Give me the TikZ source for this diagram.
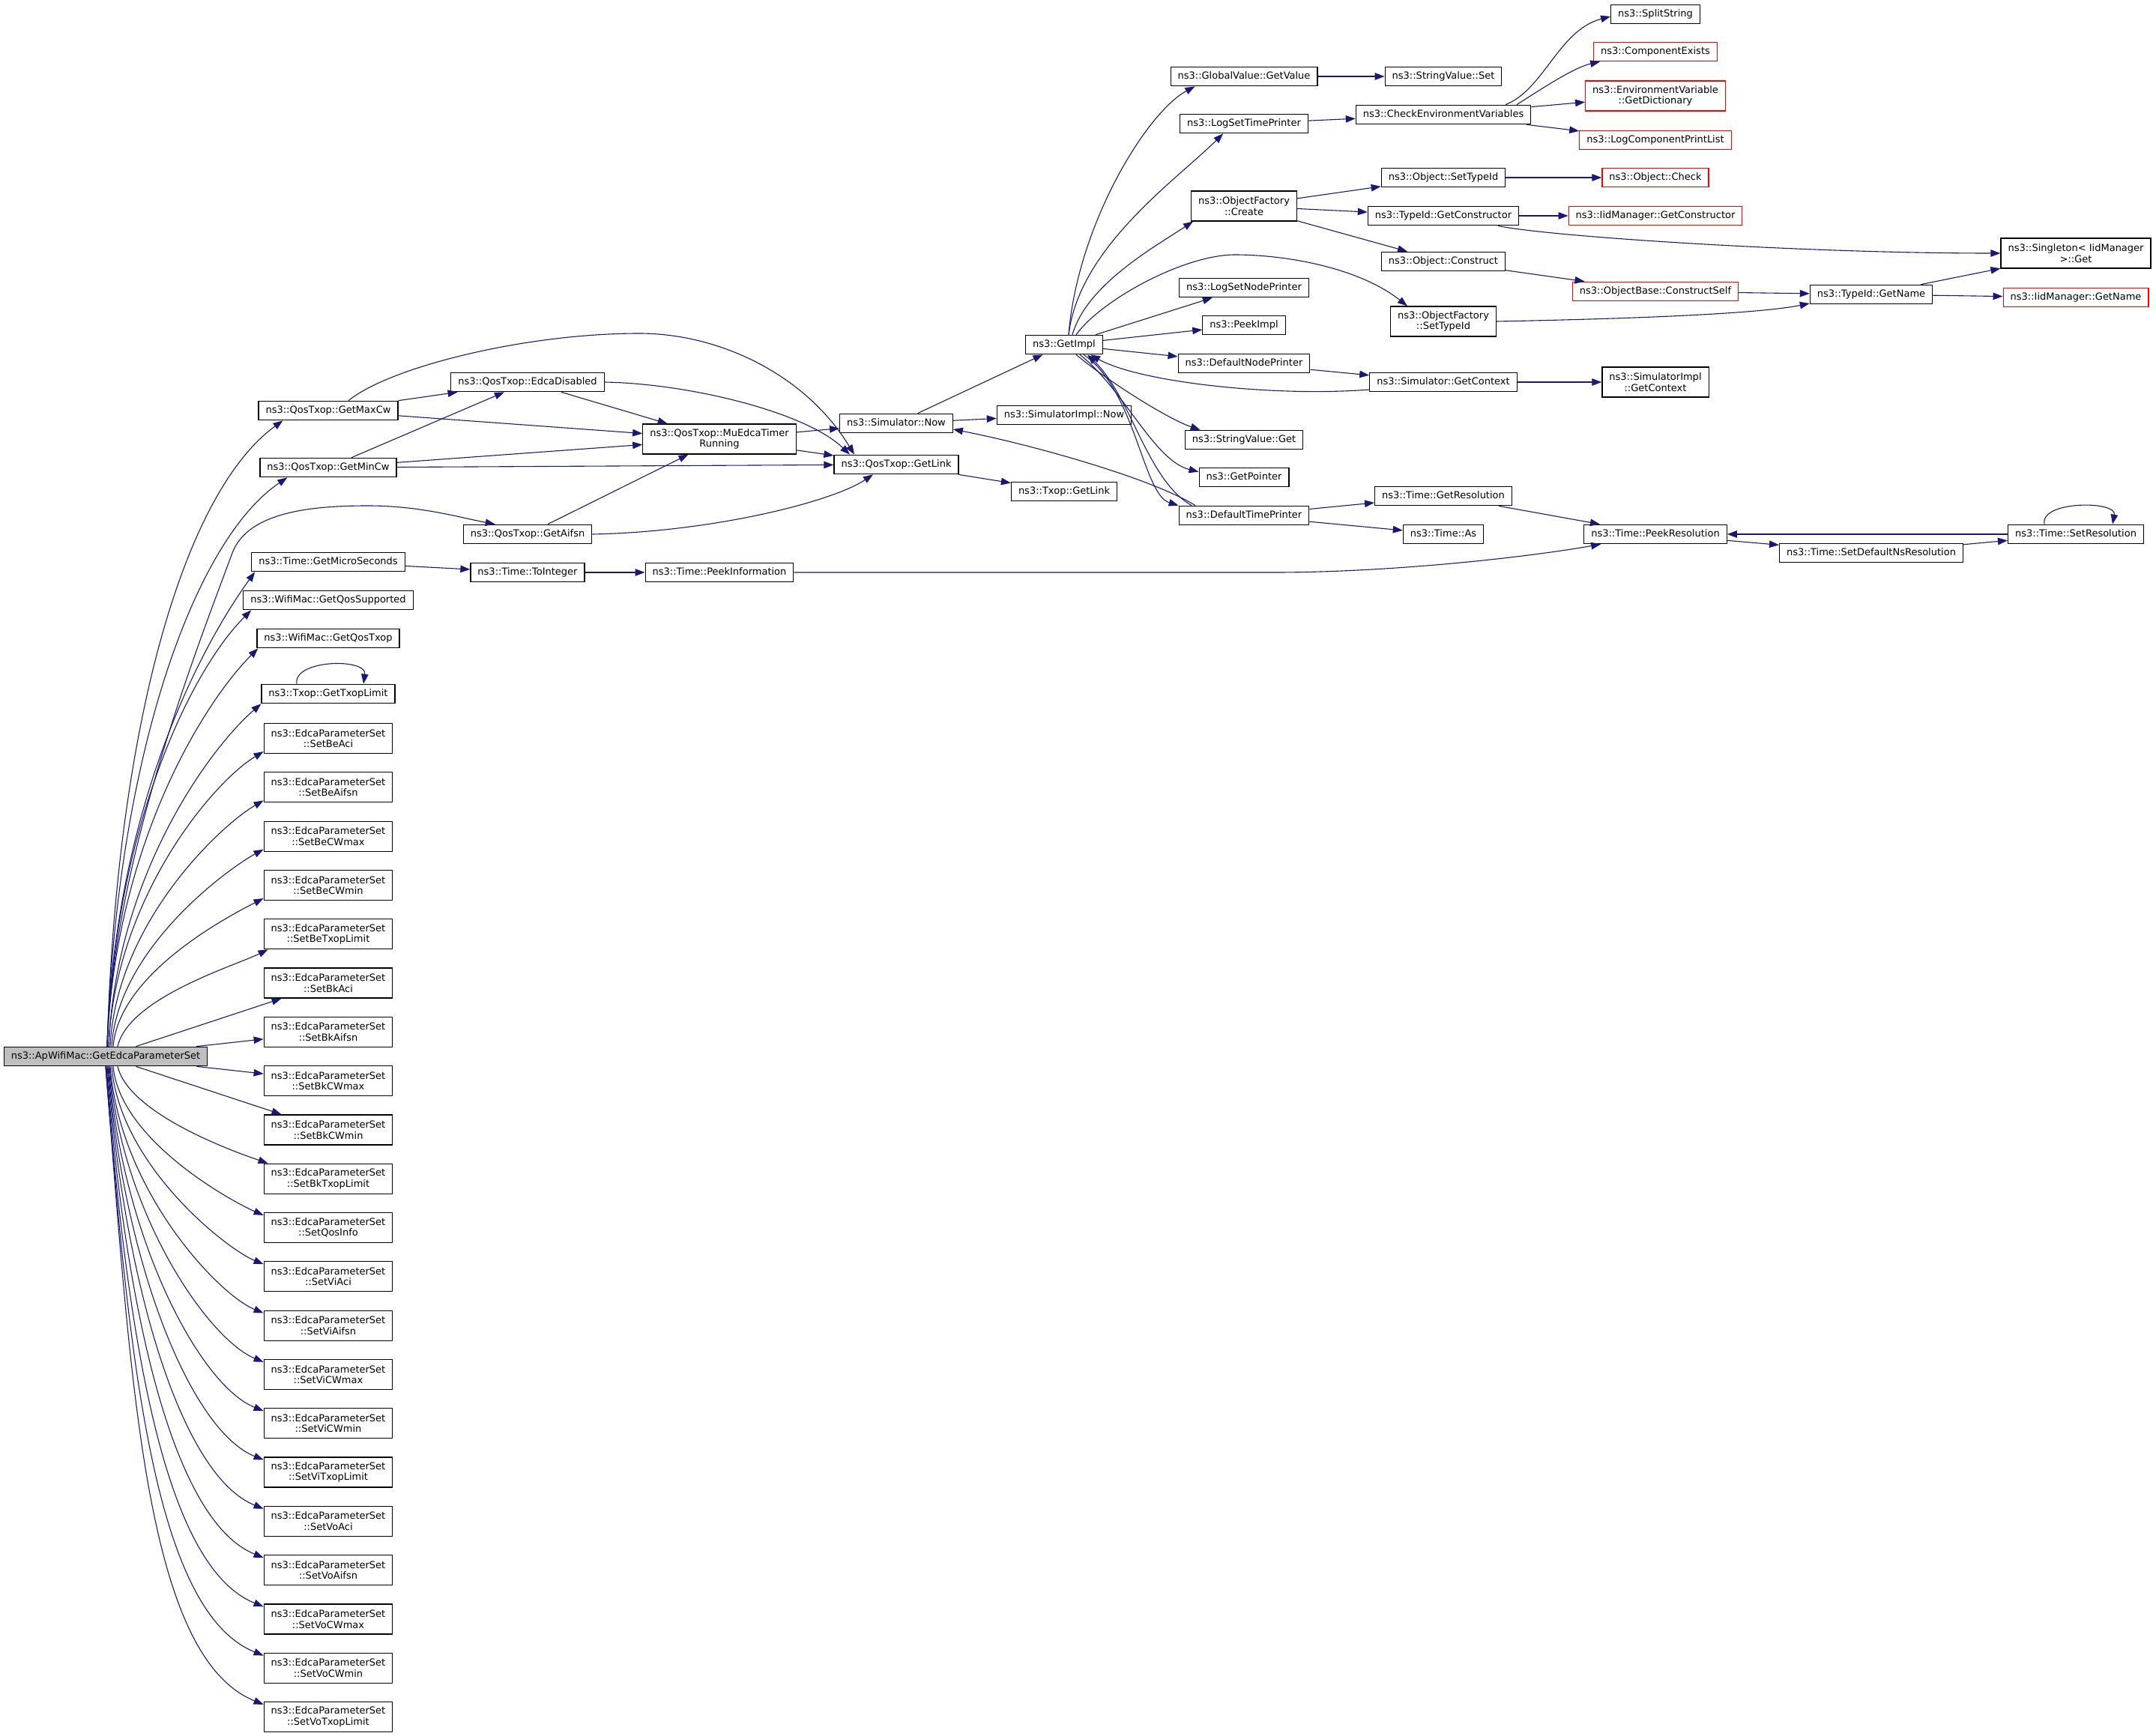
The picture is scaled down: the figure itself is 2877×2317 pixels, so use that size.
\documentclass[tikz,border=0pt]{standalone}
\usepackage{fontspec}
\setmainfont{DejaVu Sans}
\usetikzlibrary{arrows.meta}

\definecolor{edgeblue}{HTML}{191970}
\definecolor{rootgray}{HTML}{BFBFBF}

\tikzset{
  box/.style={draw=black, line width=1.2pt, fill=white, inner xsep=9.5pt,
    font=\fontsize{13}{14.5}\selectfont, minimum height=25.5pt},
  func/.style={box, text height=9.8pt, text depth=3pt},
  functwo/.style={box, align=center, minimum height=40pt},
  funcred/.style={func, draw=red},
  functwored/.style={functwo, draw=red},
  call/.style={draw=edgeblue, line width=1.1pt, -{Triangle[length=13pt,width=9.5pt]}},
}

\begin{document}
\begin{tikzpicture}[x=1pt,y=1pt]

    \path[use as bounding box, fill=white] (0,0) rectangle (2877,-2317);

    % first column
    \node[func, fill=rootgray] (root) at (141,-1410) {ns3::ApWifiMac::GetEdcaParameterSet};
    \node[func] (maxcw) at (438,-548) {ns3::QosTxop::GetMaxCw};
    \node[func] (mincw) at (438,-624) {ns3::QosTxop::GetMinCw};
    \node[func] (micro) at (438,-750) {ns3::Time::GetMicroSeconds};
    \node[func] (qossup) at (438,-801) {ns3::WifiMac::GetQosSupported};
    \node[func] (qostxop) at (438,-852) {ns3::WifiMac::GetQosTxop};
    \node[func] (txoplimit) at (438,-926) {ns3::Txop::GetTxopLimit};
    \node[functwo] (beaci) at (438,-985.5) {ns3::EdcaParameterSet\\::SetBeAci};
    \node[functwo] (beaifsn) at (438,-1050.8) {ns3::EdcaParameterSet\\::SetBeAifsn};
    \node[functwo] (becwmax) at (438,-1116.1) {ns3::EdcaParameterSet\\::SetBeCWmax};
    \node[functwo] (becwmin) at (438,-1181.4) {ns3::EdcaParameterSet\\::SetBeCWmin};
    \node[functwo] (betxop) at (438,-1246.7) {ns3::EdcaParameterSet\\::SetBeTxopLimit};
    \node[functwo] (bkaci) at (438,-1312.0) {ns3::EdcaParameterSet\\::SetBkAci};
    \node[functwo] (bkaifsn) at (438,-1377.3) {ns3::EdcaParameterSet\\::SetBkAifsn};
    \node[functwo] (bkcwmax) at (438,-1442.6) {ns3::EdcaParameterSet\\::SetBkCWmax};
    \node[functwo] (bkcwmin) at (438,-1507.9) {ns3::EdcaParameterSet\\::SetBkCWmin};
    \node[functwo] (bktxop) at (438,-1573.2) {ns3::EdcaParameterSet\\::SetBkTxopLimit};
    \node[functwo] (qosinfo) at (438,-1638.5) {ns3::EdcaParameterSet\\::SetQosInfo};
    \node[functwo] (viaci) at (438,-1703.8) {ns3::EdcaParameterSet\\::SetViAci};
    \node[functwo] (viaifsn) at (438,-1769.1) {ns3::EdcaParameterSet\\::SetViAifsn};
    \node[functwo] (vicwmax) at (438,-1834.4) {ns3::EdcaParameterSet\\::SetViCWmax};
    \node[functwo] (vicwmin) at (438,-1899.7) {ns3::EdcaParameterSet\\::SetViCWmin};
    \node[functwo] (vitxop) at (438,-1965.0) {ns3::EdcaParameterSet\\::SetViTxopLimit};
    \node[functwo] (voaci) at (438,-2030.3) {ns3::EdcaParameterSet\\::SetVoAci};
    \node[functwo] (voaifsn) at (438,-2095.6) {ns3::EdcaParameterSet\\::SetVoAifsn};
    \node[functwo] (vocwmax) at (438,-2160.9) {ns3::EdcaParameterSet\\::SetVoCWmax};
    \node[functwo] (vocwmin) at (438,-2226.2) {ns3::EdcaParameterSet\\::SetVoCWmin};
    \node[functwo] (votxop) at (438,-2291.5) {ns3::EdcaParameterSet\\::SetVoTxopLimit};

    % middle columns
    \node[func] (edcadis) at (704,-510) {ns3::QosTxop::EdcaDisabled};
    \node[func] (aifsn) at (704,-713) {ns3::QosTxop::GetAifsn};
    \node[func] (toint) at (704,-764) {ns3::Time::ToInteger};
    \node[functwo] (muedca) at (960,-586) {ns3::QosTxop::MuEdcaTimer\\Running};
    \node[func] (peekinfo) at (960,-764) {ns3::Time::PeekInformation};
    \node[func] (simnow) at (1196,-565) {ns3::Simulator::Now};
    \node[func] (qoslink) at (1196,-620) {ns3::QosTxop::GetLink};
    \node[func] (getimpl) at (1420,-460) {ns3::GetImpl};
    \node[func] (simimplnow) at (1420,-554) {ns3::SimulatorImpl::Now};
    \node[func] (txoplink) at (1420,-656) {ns3::Txop::GetLink};

    \node[func] (globalget) at (1660,-102) {ns3::GlobalValue::GetValue};
    \node[func] (logtime) at (1660,-165) {ns3::LogSetTimePrinter};
    \node[functwo] (ofcreate) at (1660,-275) {ns3::ObjectFactory\\::Create};
    \node[func] (lognode) at (1660,-384) {ns3::LogSetNodePrinter};
    \node[func] (peekimpl) at (1660,-434) {ns3::PeekImpl};
    \node[func] (defnode) at (1660,-485) {ns3::DefaultNodePrinter};
    \node[func] (svget) at (1660,-587) {ns3::StringValue::Get};
    \node[func] (getptr) at (1660,-637) {ns3::GetPointer};
    \node[func] (deftime) at (1660,-688) {ns3::DefaultTimePrinter};

    \node[func] (svset) at (1926,-102) {ns3::StringValue::Set};
    \node[func] (checkenv) at (1926,-153) {ns3::CheckEnvironmentVariables};
    \node[func] (objsettid) at (1926,-237) {ns3::Object::SetTypeId};
    \node[func] (getctor) at (1926,-288) {ns3::TypeId::GetConstructor};
    \node[func] (objconstruct) at (1926,-349) {ns3::Object::Construct};
    \node[functwo] (ofsettid) at (1926,-429) {ns3::ObjectFactory\\::SetTypeId};
    \node[func] (simctx) at (1926,-510) {ns3::Simulator::GetContext};
    \node[func] (getres) at (1926,-662) {ns3::Time::GetResolution};
    \node[func] (timeas) at (1926,-713) {ns3::Time::As};

    % right columns
    \node[func] (split) at (2209,-19) {ns3::SplitString};
    \node[funcred] (compexists) at (2209,-69) {ns3::ComponentExists};
    \node[functwored] (envdict) at (2209,-128) {ns3::EnvironmentVariable\\::GetDictionary};
    \node[funcred] (logprint) at (2209,-187) {ns3::LogComponentPrintList};
    \node[funcred] (objcheck) at (2209,-237) {ns3::Object::Check};
    \node[funcred] (iidctor) at (2209,-288) {ns3::IidManager::GetConstructor};
    \node[funcred] (constructself) at (2209,-389) {ns3::ObjectBase::ConstructSelf};
    \node[functwo] (simimplctx) at (2209,-510) {ns3::SimulatorImpl\\::GetContext};
    \node[func] (peekres) at (2209,-713) {ns3::Time::PeekResolution};
    \node[func] (getname) at (2497,-393) {ns3::TypeId::GetName};
    \node[func] (setdefns) at (2497,-738) {ns3::Time::SetDefaultNsResolution};
    \node[functwo] (singleton) at (2770,-338) {ns3::Singleton< IidManager\\ >::Get};
    \node[funcred] (iidname) at (2770,-397) {ns3::IidManager::GetName};
    \node[func] (setres) at (2770,-713) {ns3::Time::SetResolution};

    % calls out of the root, upwards
    \draw[call] ([xshift=2pt]root.north) .. controls +(12,418) and +(-135,-98) .. ([xshift=33pt]maxcw.south west);
    \draw[call] ([xshift=2pt]root.north) .. controls +(12,380) and +(-126,-85) .. ([xshift=37pt]mincw.south west);
    \draw[call] ([xshift=2pt]root.north) .. controls (150,-1150) and (265,-860) .. (310,-738)
      .. controls (331,-682) and (420,-675) .. (491,-675)
      .. controls (560,-675) and (610,-690) .. ([xshift=43pt]aifsn.north west);
    \draw[call] ([xshift=2pt]root.north) .. controls +(10,316) and +(-74,-102) .. ([xshift=5pt]micro.south west);
    \draw[call] ([xshift=2pt]root.north) .. controls +(10,291) and +(-82,-82) .. ([xshift=11pt]qossup.south west);
    \draw[call] ([xshift=2pt]root.north) .. controls +(10,265) and +(-75,-75) .. ([xshift=2pt]qostxop.south west);
    \draw[call] ([xshift=4pt]root.north) .. controls +(10,228) and +(-69,-60) .. (txoplimit.south west);
    \draw[call] ([xshift=4pt]root.north) .. controls +(8,197) and +(-68,-41) .. ([yshift=3pt]beaci.south west);
    \draw[call] ([xshift=6pt]root.north) .. controls +(8,165) and +(-57,-33) .. ([yshift=3pt]beaifsn.south west);
    \draw[call] ([xshift=8pt]root.north) .. controls +(8,130) and +(-48,-26) .. ([yshift=3pt]becwmax.south west);
    \draw[call] ([xshift=10pt]root.north) .. controls +(8,98) and +(-45,-23) .. ([yshift=3pt]becwmin.south west);
    \draw[call] ([xshift=16pt]root.north) .. controls +(15,65) and +(-45,-22) .. ([xshift=6pt]betxop.south west);
    \draw[call] (root) -- (bkaci);
    \draw[call] (root) -- (bkaifsn);

    % calls out of the root, downwards
    \draw[call] (root) -- (bkcwmax);
    \draw[call] (root) -- (bkcwmin);
    \draw[call] ([xshift=16pt]root.south) .. controls +(15,-63) and +(-47,16) .. ([xshift=6pt]bktxop.north west);
    \draw[call] ([xshift=10pt]root.south) .. controls +(9,-97) and +(-46,20) .. ([yshift=-4pt]qosinfo.north west);
    \draw[call] ([xshift=8pt]root.south) .. controls +(11,-132) and +(-49,20) .. ([yshift=-4pt]viaci.north west);
    \draw[call] ([xshift=6pt]root.south) .. controls +(13,-165) and +(-61,25) .. ([yshift=-4pt]viaifsn.north west);
    \draw[call] ([xshift=5pt]root.south) .. controls +(16,-198) and +(-73,30) .. ([yshift=-4pt]vicwmax.north west);
    \draw[call] ([xshift=4pt]root.south) .. controls +(18,-230) and +(-85,34) .. ([yshift=-4pt]vicwmin.north west);
    \draw[call] ([xshift=3pt]root.south) .. controls +(21,-263) and +(-97,39) .. ([yshift=-4pt]vitxop.north west);
    \draw[call] ([xshift=2pt]root.south) .. controls +(24,-296) and +(-109,44) .. ([yshift=-4pt]voaci.north west);
    \draw[call] ([xshift=1pt]root.south) .. controls +(26,-328) and +(-121,49) .. ([yshift=-4pt]voaifsn.north west);
    \draw[call] (root.south) .. controls +(29,-361) and +(-134,54) .. ([yshift=-4pt]vocwmax.north west);
    \draw[call] (root.south) .. controls +(31,-394) and +(-146,59) .. ([yshift=-4pt]vocwmin.north west);
    \draw[call] (root.south) .. controls +(34,-426) and +(-158,64) .. ([yshift=-4pt]votxop.north west);

    % QosTxop part
    \draw[call] (maxcw) -- (edcadis);
    \draw[call] (maxcw) -- (muedca);
    \draw[call] ([xshift=27pt]maxcw.north) .. controls (520,-490) and (700,-445) .. (853,-445)
      .. controls (960,-445) and (1075,-500) .. ([xshift=-56pt]qoslink.north);
    \draw[call] (mincw) -- (edcadis);
    \draw[call] (mincw) -- (muedca);
    \draw[call] (mincw) -- (qoslink);
    \draw[call] (edcadis) -- (muedca);
    \draw[call] (edcadis.east) .. controls (920,-512) and (1075,-550) .. ([xshift=-62pt]qoslink.north);
    \draw[call] (aifsn) -- (muedca);
    \draw[call] (aifsn.east) .. controls (950,-710) and (1110,-670) .. ([xshift=-31pt]qoslink.south);
    \draw[call] (muedca) -- (simnow);
    \draw[call] (muedca) -- (qoslink);
    \draw[call] (simnow) -- (getimpl);
    \draw[call] (simnow) -- (simimplnow);
    \draw[call] (qoslink) -- (txoplink);
    \draw[call] ([xshift=-42pt]txoplimit.north) .. controls (391,-880) and (490,-878) .. ([xshift=47pt]txoplimit.north);

    % time
    \draw[call] (micro) -- (toint);
    \draw[call] (toint) -- (peekinfo);
    \draw[call] (peekinfo.east) -- (1700,-764) .. controls (1850,-764) and (2030,-745) .. ([xshift=23pt]peekres.south west);

    % GetImpl
    \draw[call] ([xshift=6pt]getimpl.north) .. controls (1438,-300) and (1530,-150) .. ([xshift=33pt]globalget.south west);
    \draw[call] ([xshift=6pt]getimpl.north) .. controls (1440,-330) and (1570,-240) .. ([xshift=58pt]logtime.south west);
    \draw[call] ([xshift=11pt]getimpl.north) .. controls (1450,-380) and (1540,-330) .. ([xshift=3pt]ofcreate.south west);
    \draw[call] ([xshift=16pt]getimpl.north) .. controls (1470,-400) and (1580,-340) .. (1648,-340)
      .. controls (1710,-340) and (1810,-355) .. ([xshift=-48pt]ofsettid.north);
    \draw[call] (getimpl) -- (lognode);
    \draw[call] (getimpl) -- (peekimpl);
    \draw[call] (getimpl) -- (defnode);
    \draw[call] ([xshift=16pt]getimpl.south) .. controls (1480,-510) and (1560,-560) .. ([xshift=21pt]svget.north west);
    \draw[call] ([xshift=21pt]getimpl.south) .. controls (1500,-520) and (1540,-615) .. ([yshift=-6pt]getptr.north west);
    \draw[call] ([xshift=26pt]getimpl.south) .. controls (1515,-520) and (1525,-660) .. (deftime.north west);
    \draw[call] ([xshift=-70pt]deftime.north) .. controls (1530,-640) and (1510,-530) .. ([xshift=31pt]getimpl.south);
    \draw[call] ([yshift=-10pt]simctx.west) .. controls (1700,-530) and (1520,-510) .. ([xshift=35pt]getimpl.south);
    \draw[call] ([xshift=-65pt]deftime.north) .. controls (1540,-640) and (1384,-595) .. ([yshift=-8pt]simnow.east);

    \draw[call] (globalget) -- (svset);
    \draw[call] (logtime) -- (checkenv);
    \draw[call] ([xshift=83pt]checkenv.north) .. controls (2060,-120) and (2080,-40) .. ([yshift=-3pt]split.west);
    \draw[call] ([xshift=98pt]checkenv.north) .. controls (2055,-120) and (2100,-90) .. ([xshift=9pt]compexists.south west);
    \draw[call] (checkenv) -- (envdict);
    \draw[call] (checkenv) -- (logprint);
    \draw[call] (ofcreate) -- (objsettid);
    \draw[call] (ofcreate) -- (getctor);
    \draw[call] (ofcreate) -- (objconstruct);
    \draw[call] (objsettid) -- (objcheck);
    \draw[call] (getctor) -- (iidctor);
    \draw[call] ([xshift=73pt]getctor.south) .. controls (2060,-315) and (2400,-338) .. (singleton.west);
    \draw[call] (objconstruct) -- (constructself);
    \draw[call] (constructself) -- (getname);
    \draw[call] (ofsettid.east) .. controls (2150,-426) and (2340,-420) .. ([yshift=-12pt]getname.west);
    \draw[call] (getname) -- (singleton);
    \draw[call] (getname) -- (iidname);
    \draw[call] (defnode) -- (simctx);
    \draw[call] (simctx) -- (simimplctx);

    \draw[call] (deftime) -- (getres);
    \draw[call] (deftime) -- (timeas);
    \draw[call] (getres) -- (peekres);
    \draw[call] (peekres) -- (setdefns);
    \draw[call] (setdefns) -- (setres);
    \draw[call] (setres) -- (peekres);
    \draw[call] ([xshift=-42pt]setres.north) .. controls (2722,-668) and (2825,-668) .. ([xshift=49pt]setres.north);

\end{tikzpicture}
\end{document}
